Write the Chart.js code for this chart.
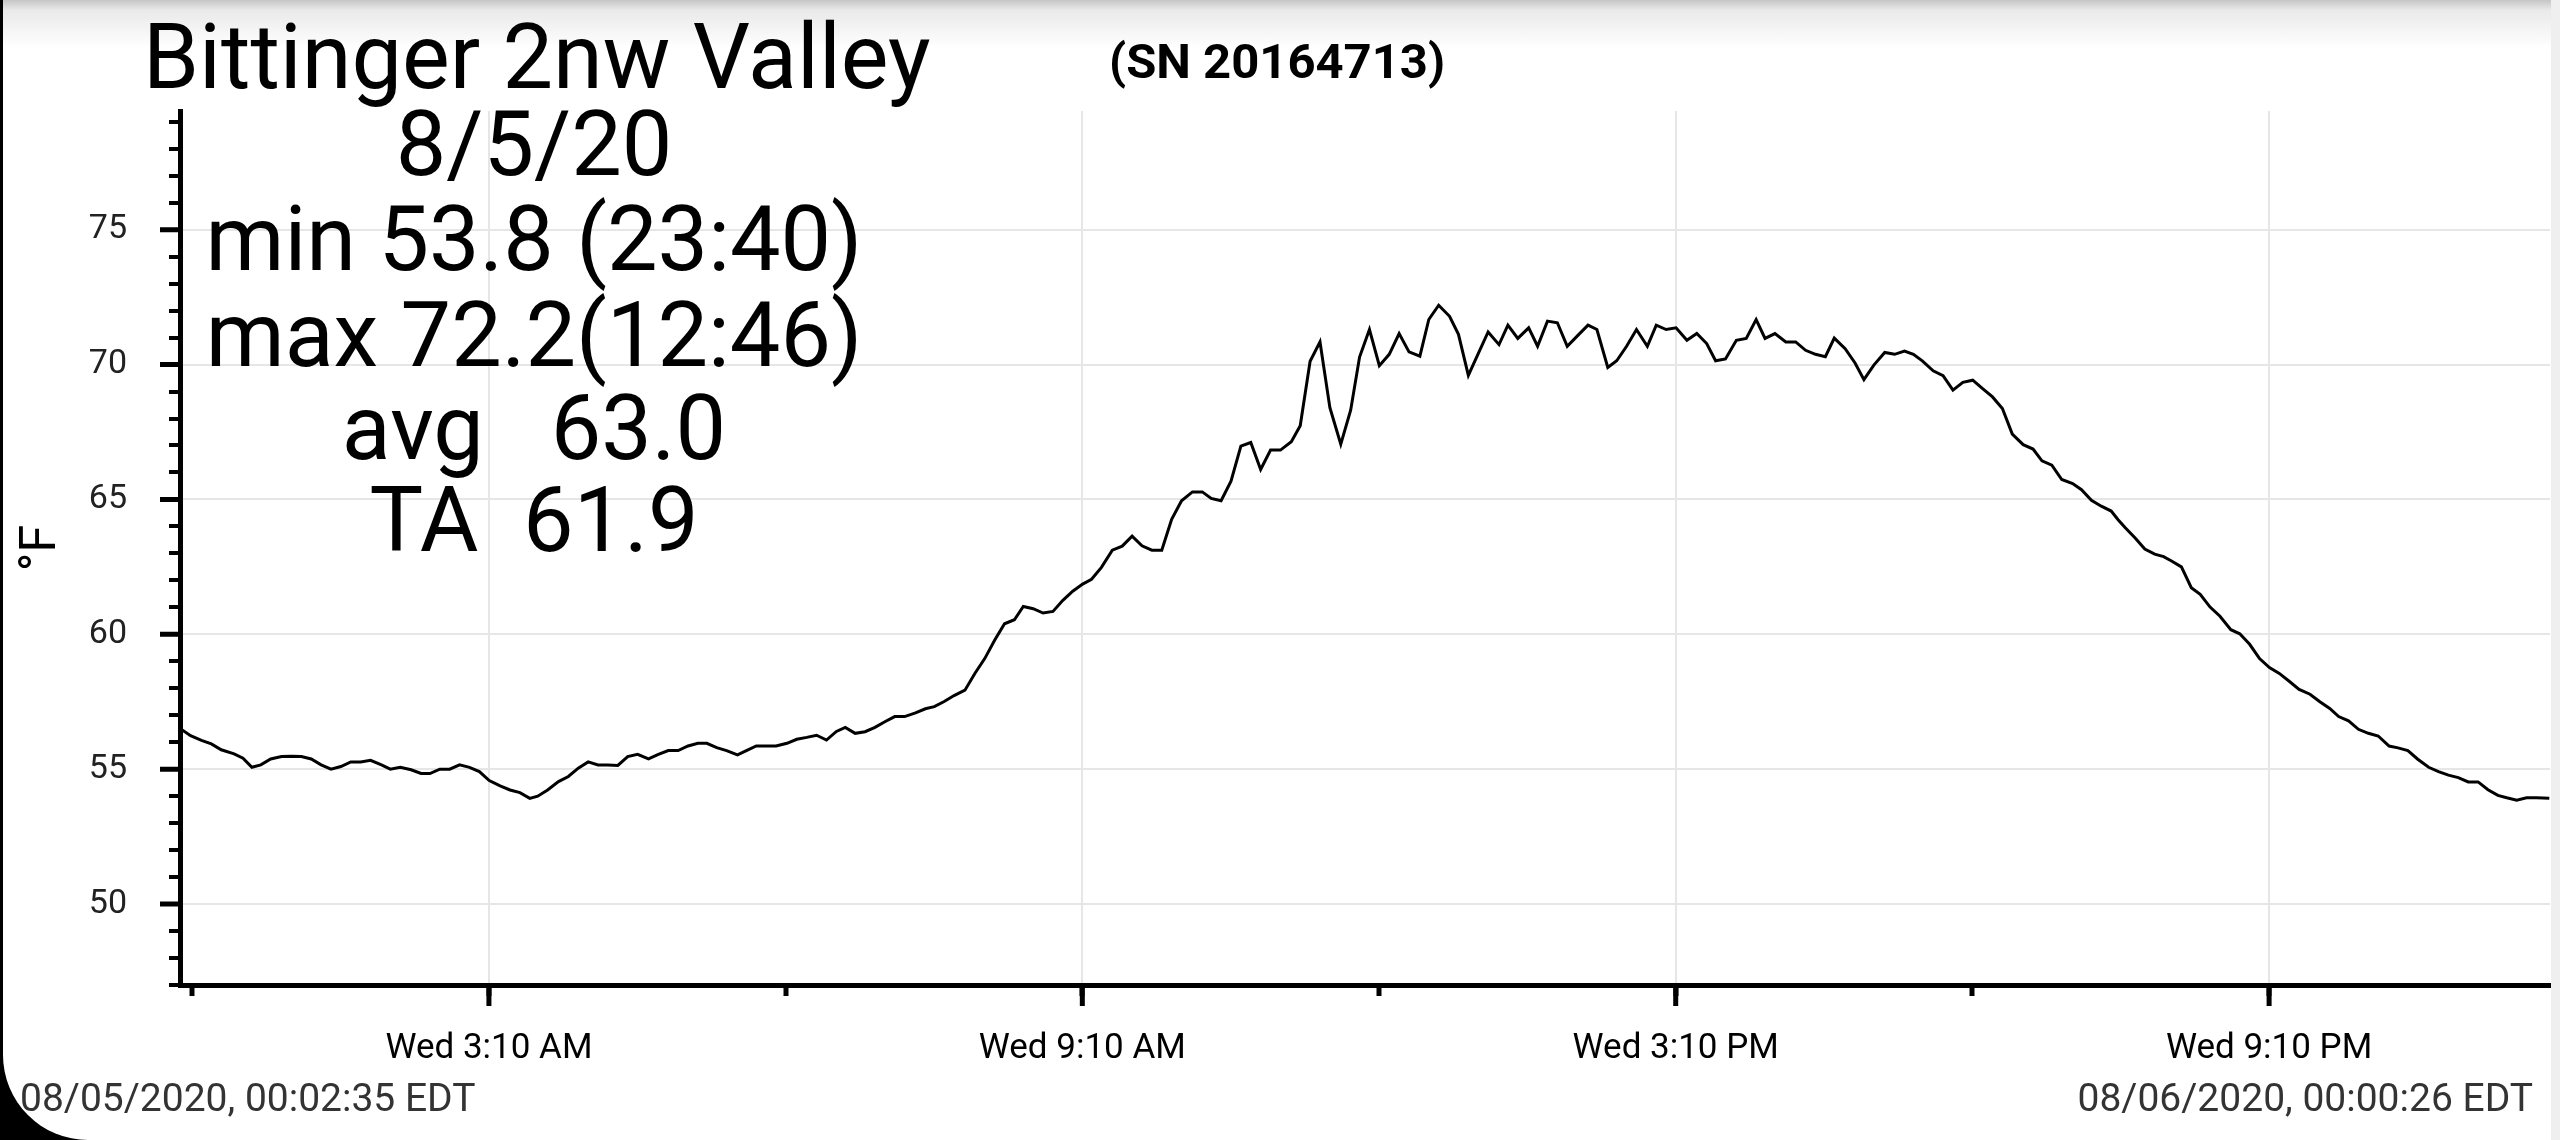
<!DOCTYPE html>
<html>
<head>
<meta charset="utf-8">
<title>Bittinger 2nw Valley</title>
<script src="https://cdn.jsdelivr.net/npm/chart.js@4.4.1/dist/chart.umd.min.js"></script>
<style>
  html, body { margin: 0; padding: 0; background: #000; width: 2560px; height: 1140px; overflow: hidden; }
  #frame { position: absolute; left: 3px; top: 0; width: 2557px; height: 1140px; background: #fff; border-bottom-left-radius: 85px; }
  #shade { position: absolute; left: 3px; top: 0; width: 2548px; height: 48px; background: linear-gradient(#c6c6c6, #e9e9e9 10px, #fff); }
  #strip { position: absolute; left: 2551px; top: 0; width: 9px; height: 1140px; background: #efefef; }
  canvas { position: absolute; left: 0; top: 0; }
  .txt { position: absolute; font-family: Roboto, sans-serif; color: #000; white-space: pre; line-height: 1; }
  #title { left: 143px; top: 13px; font-size: 90px; }
  #sn { left: 1109px; top: 37px; font-size: 49px; font-weight: bold; }
  .stat { left: 534px; transform: translateX(-50%); font-size: 90px; }
  .date { top: 1079px; font-size: 39px; color: #333; }
</style>
</head>
<body>
<div id="frame"></div>
<div id="shade"></div>
<div id="strip"></div>
<canvas id="chart" width="2560" height="1140"></canvas>
<div class="txt" id="title">Bittinger 2nw Valley</div>
<div class="txt" id="sn">(SN 20164713)</div>
<div id="stats"></div>
<div class="txt date" style="left:20px">08/05/2020, 00:02:35 EDT</div>
<div class="txt date" style="right:27px">08/06/2020, 00:00:26 EDT</div>
<script>
// readings, hours after midnight 8/5/20
const hours = [
  0.05, 0.15, 0.26, 0.36, 0.46, 0.59, 0.68, 0.77, 0.86, 0.96,
  1.07, 1.17, 1.27, 1.37, 1.47, 1.57, 1.67, 1.77, 1.87, 1.97,
  2.08, 2.17, 2.27, 2.38, 2.48, 2.57, 2.67, 2.77, 2.87, 2.97,
  3.07, 3.17, 3.28, 3.38, 3.48, 3.58, 3.66, 3.76, 3.87, 3.97,
  4.07, 4.17, 4.27, 4.37, 4.47, 4.57, 4.67, 4.78, 4.88, 4.98,
  5.08, 5.18, 5.28, 5.37, 5.47, 5.57, 5.68, 5.77, 5.87, 5.97,
  6.07, 6.18, 6.28, 6.38, 6.48, 6.58, 6.68, 6.77, 6.87, 6.97,
  7.07, 7.17, 7.27, 7.37, 7.48, 7.58, 7.67, 7.77, 7.87, 7.98,
  8.08, 8.18, 8.28, 8.38, 8.48, 8.57, 8.67, 8.77, 8.87, 8.97,
  9.07, 9.17, 9.26, 9.36, 9.47, 9.57, 9.67, 9.77, 9.87, 9.97,
  10.07, 10.17, 10.28, 10.38, 10.47, 10.57, 10.67, 10.77, 10.87, 10.97,
  11.07, 11.17, 11.28, 11.37, 11.47, 11.57, 11.67, 11.78, 11.88, 11.97,
  12.07, 12.17, 12.27, 12.37, 12.47, 12.58, 12.67, 12.77, 12.88, 12.97,
  13.07, 13.17, 13.27, 13.38, 13.47, 13.57, 13.68, 13.77, 13.87, 13.97,
  14.07, 14.18, 14.28, 14.37, 14.48, 14.57, 14.67, 14.77, 14.88, 14.97,
  15.07, 15.17, 15.28, 15.38, 15.48, 15.57, 15.67, 15.78, 15.88, 15.98,
  16.07, 16.17, 16.28, 16.38, 16.48, 16.58, 16.68, 16.77, 16.88, 16.98,
  17.07, 17.17, 17.28, 17.38, 17.48, 17.57, 17.66, 17.77, 17.87, 17.97,
  18.07, 18.17, 18.27, 18.37, 18.47, 18.57, 18.68, 18.78, 18.87, 18.97,
  19.07, 19.18, 19.27, 19.37, 19.47, 19.57, 19.64, 19.71, 19.81, 19.91,
  20.01, 20.10, 20.18, 20.28, 20.38, 20.47, 20.57, 20.67, 20.78, 20.87,
  20.97, 21.07, 21.17, 21.27, 21.37, 21.47, 21.58, 21.68, 21.78, 21.87,
  21.97, 22.07, 22.17, 22.27, 22.38, 22.47, 22.57, 22.67, 22.78, 22.88,
  22.98, 23.08, 23.18, 23.28, 23.38, 23.48, 23.57, 23.67, 23.77, 23.87,
  24.00
];
const tempF = [
  56.49, 56.24, 56.07, 55.94, 55.72, 55.57, 55.41, 55.07, 55.16, 55.38,
  55.47, 55.48, 55.47, 55.38, 55.16, 55.00, 55.10, 55.27, 55.27, 55.33,
  55.16, 55.00, 55.07, 54.98, 54.84, 54.84, 55.00, 55.00, 55.16, 55.07,
  54.91, 54.58, 54.38, 54.23, 54.13, 53.92, 54.00, 54.23, 54.54, 54.73,
  55.04, 55.27, 55.16, 55.16, 55.14, 55.47, 55.55, 55.38, 55.55, 55.69,
  55.69, 55.86, 55.96, 55.96, 55.80, 55.69, 55.53, 55.69, 55.86, 55.86,
  55.86, 55.96, 56.11, 56.18, 56.26, 56.08, 56.40, 56.55, 56.33, 56.39,
  56.55, 56.76, 56.95, 56.95, 57.09, 57.24, 57.32, 57.51, 57.73, 57.93,
  58.55, 59.10, 59.78, 60.39, 60.54, 61.03, 60.95, 60.79, 60.85, 61.26,
  61.60, 61.86, 62.04, 62.48, 63.12, 63.27, 63.64, 63.28, 63.12, 63.12,
  64.26, 64.95, 65.28, 65.28, 65.04, 64.95, 65.68, 66.98, 67.11, 66.11,
  66.83, 66.83, 67.14, 67.73, 70.12, 70.84, 68.40, 67.05, 68.31, 70.28,
  71.30, 69.96, 70.38, 71.15, 70.47, 70.31, 71.67, 72.20, 71.79, 71.12,
  69.60, 70.41, 71.21, 70.74, 71.46, 70.97, 71.36, 70.68, 71.61, 71.55,
  70.68, 71.09, 71.46, 71.30, 69.89, 70.14, 70.68, 71.30, 70.68, 71.46,
  71.30, 71.36, 70.90, 71.15, 70.78, 70.14, 70.21, 70.90, 70.97, 71.67,
  70.97, 71.15, 70.84, 70.84, 70.53, 70.38, 70.29, 70.98, 70.59, 70.06,
  69.44, 69.98, 70.45, 70.38, 70.50, 70.38, 70.14, 69.77, 69.59, 69.05,
  69.34, 69.42, 69.11, 68.80, 68.37, 67.42, 67.03, 66.87, 66.43, 66.27,
  65.74, 65.59, 65.36, 64.97, 64.75, 64.57, 64.25, 63.96, 63.58, 63.16,
  62.97, 62.88, 62.72, 62.50, 61.73, 61.48, 61.01, 60.67, 60.17, 60.02,
  59.63, 59.10, 58.77, 58.55, 58.26, 57.96, 57.78, 57.50, 57.25, 56.95,
  56.79, 56.48, 56.33, 56.23, 55.86, 55.79, 55.69, 55.37, 55.07, 54.91,
  54.78, 54.69, 54.53, 54.53, 54.24, 54.03, 53.94, 53.85, 53.94, 53.94,
  53.92
];

// first and last reading (00:02:35 and 24:00:26)
const startHour = 0.043;
const endHour = 24.007;

const xTickHours = [0.1667, 3.1667, 6.1667, 9.1667, 12.1667, 15.1667, 18.1667, 21.1667];
const xTickText = ['', 'Wed 3:10 AM', '', 'Wed 9:10 AM', '', 'Wed 3:10 PM', '', 'Wed 9:10 PM'];

const yMin = 47;
const yMax = 79.4;
const yMajor = 5;

const statLines = ['8/5/20', 'min 53.8 (23:40)', 'max 72.2(12:46)', 'avg   63.0', 'TA  61.9'];
const statTops = [100, 195, 291, 384, 476];

statLines.forEach((s, i) => {
  const d = document.createElement('div');
  d.className = 'txt stat';
  d.style.top = statTops[i] + 'px';
  d.textContent = s;
  document.getElementById('stats').appendChild(d);
});

// longer marks for the labelled ticks
const majorTicks = {
  id: 'majorTicks',
  afterDraw(chart) {
    const ctx = chart.ctx;
    const xs = chart.scales.x, ys = chart.scales.y;
    ctx.save();
    ctx.strokeStyle = '#000';
    ctx.lineWidth = 5;
    ctx.beginPath();
    xTickHours.forEach((h, i) => {
      if (!xTickText[i]) return;
      const px = xs.getPixelForValue(h);
      ctx.moveTo(px, xs.top);
      ctx.lineTo(px, xs.top + 21);
    });
    ys.ticks.forEach(t => {
      if (t.value % yMajor !== 0) return;
      const py = ys.getPixelForValue(t.value);
      ctx.moveTo(ys.right - 20, py);
      ctx.lineTo(ys.right, py);
    });
    ctx.stroke();
    ctx.restore();
  }
};

new Chart(document.getElementById('chart').getContext('2d'), {
  type: 'line',
  data: {
    datasets: [{
      data: hours.map((h, i) => ({x: h, y: tempF[i]})),
      borderColor: '#000',
      borderWidth: 3,
      pointRadius: 0,
      tension: 0,
      fill: false
    }]
  },
  options: {
    responsive: false,
    devicePixelRatio: 1,
    animation: false,
    layout: { padding: { top: 111, right: 10, left: 0, bottom: 0 } },
    plugins: { legend: { display: false }, tooltip: { enabled: false } },
    scales: {
      x: {
        type: 'linear',
        min: startHour,
        max: endHour,
        afterBuildTicks: s => { s.ticks = xTickHours.map(v => ({value: v})); },
        afterFit: s => { s.height = 155; },
        border: { color: '#000', width: 5 },
        grid: {
          color: c => (xTickText[c.index] ? '#e6e6e6' : 'rgba(0,0,0,0)'),
          lineWidth: 2,
          tickColor: '#000',
          tickWidth: 5,
          tickLength: 11
        },
        ticks: {
          autoSkip: false,
          maxRotation: 0,
          padding: 32,
          color: '#000',
          font: { family: 'Roboto', size: 35 },
          callback: (v, i) => xTickText[i]
        }
      },
      y: {
        min: yMin,
        max: yMax,
        afterFit: s => { s.width = 180; },
        border: { color: '#000', width: 5 },
        grid: {
          color: c => (c.tick && c.tick.value % yMajor === 0 ? '#e6e6e6' : 'rgba(0,0,0,0)'),
          lineWidth: 2,
          tickColor: '#000',
          tickWidth: 4,
          tickLength: 11
        },
        ticks: {
          stepSize: 1,
          includeBounds: false,
          autoSkip: false,
          padding: 42,
          color: '#222',
          font: { family: 'Roboto', size: 34 },
          callback: v => (v % yMajor === 0 ? String(v) : '')
        },
        title: {
          display: true,
          text: '°F',
          color: '#000',
          font: { family: 'Roboto', size: 50 },
          padding: { top: 12, bottom: 0 }
        }
      }
    }
  },
  plugins: [majorTicks]
});
</script>
</body>
</html>
